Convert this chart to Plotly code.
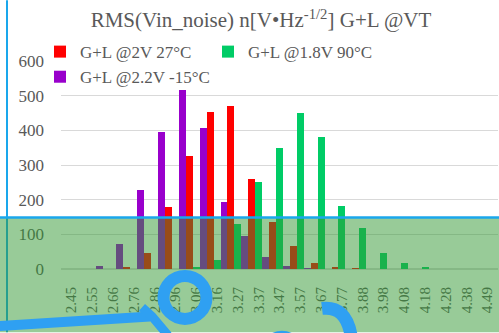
import plotly.graph_objects as go

categories = ["2.45", "2.55", "2.66", "2.76", "2.86", "2.96", "3.06", "3.16", "3.27", "3.37", "3.47",
              "3.57", "3.67", "3.77", "3.88", "3.98", "4.08", "4.18", "4.28", "4.38", "4.49"]
red_2v_27c = [0, 0, 0, 5, 45, 178, 325, 452, 471, 259, 136, 66, 18, 5, 2, 0, 0, 0, 0, 0, 0]
green_18v_90c = [0, 0, 0, 0, 0, 0, 3, 27, 130, 252, 348, 451, 381, 181, 117, 47, 18, 5, 0, 0, 0]
purple_22v_m15c = [0, 8, 72, 227, 395, 516, 408, 193, 96, 35, 8, 2, 0, 0, 0, 0, 0, 0, 0, 0, 0]

W, H = 499, 333
L, R, T, B = 61, 498, 61, 269.5


def px(x):
    return (x - L) / (R - L)


def py(y):
    return (B - y) / (B - T)


GREY = "#595959"
FONT = "Liberation Serif"

fig = go.Figure()
for name, vals, col in [("G+L @2V 27°C", red_2v_27c, "#FF0000"),
                        ("G+L @1.8V 90°C", green_18v_90c, "#00CC66"),
                        ("G+L @2.2V -15°C", purple_22v_m15c, "#9900CC")]:
    fig.add_trace(go.Bar(x=categories, y=vals, name=name, marker_color=col,
                         marker_line_width=0))

BLUE = "#2FA0F2"
shapes = [
    dict(type="line", xref="paper", yref="paper", x0=px(7), x1=px(7), y0=py(0), y1=py(333),
         line=dict(color="#1AA7EC", width=2)),
    dict(type="rect", xref="paper", yref="paper", x0=px(0), x1=px(499), y0=py(218), y1=py(333),
         fillcolor="rgba(49,152,49,0.5)", line=dict(width=0)),
    dict(type="line", xref="paper", yref="paper", x0=px(0), x1=px(499), y0=py(218), y1=py(218),
         line=dict(color="#1AA7EC", width=2.5)),
    dict(type="circle", xref="paper", yref="paper", x0=px(185 - 21.5), x1=px(185 + 21.5),
         y0=py(298 + 21.5), y1=py(298 - 21.5), line=dict(color=BLUE, width=12)),
    dict(type="path", xref="paper", yref="paper",
         path=f"M {px(-5)},{py(327)} L {px(150)},{py(317)}",
         line=dict(color=BLUE, width=10)),
    dict(type="path", xref="paper", yref="paper",
         path=f"M {px(142)},{py(308)} L {px(152)},{py(317)} L {px(168)},{py(336)}",
         line=dict(color=BLUE, width=9)),
    dict(type="path", xref="paper", yref="paper",
         path=f"M {px(322)},{py(309)} Q {px(346)},{py(306)} {px(351)},{py(336)}",
         line=dict(color=BLUE, width=13)),
    dict(type="path", xref="paper", yref="paper",
         path=f"M {px(272)},{py(336)} Q {px(282)},{py(331)} {px(292)},{py(336)}",
         line=dict(color=BLUE, width=4)),
]

fig.update_layout(
    width=W, height=H,
    margin=dict(l=L, r=W - R, t=T, b=H - B, pad=0),
    paper_bgcolor="white", plot_bgcolor="white",
    barmode="group", bargap=0, bargroupgap=0,
    title=dict(text="RMS(Vin_noise) n[V•Hz<sup>-1/2</sup>] G+L @VT",
               x=261 / W, xanchor="center", xref="container",
               y=1 - 20 / H, yanchor="middle", yref="container",
               font=dict(family=FONT, size=21, color=GREY)),
    legend=dict(orientation="h", x=px(40), xanchor="left", y=py(34), yanchor="top",
                entrywidth=123, entrywidthmode="pixels",
                font=dict(family=FONT, size=17, color=GREY),
                bgcolor="rgba(0,0,0,0)", tracegroupgap=0, itemsizing="constant"),
    xaxis=dict(type="category", range=[-0.5, 20.5], tickangle=-90, showgrid=False,
               showline=False, zeroline=False, ticks="",
               tickfont=dict(family=FONT, size=15, color=GREY), ticklabelstandoff=14),
    yaxis=dict(range=[0, 600], dtick=100, showgrid=True, gridcolor="#D9D9D9", gridwidth=1,
               zeroline=True, zerolinecolor="#D9D9D9", showline=False, ticks="",
               tickfont=dict(family=FONT, size=17, color=GREY), ticklabelstandoff=16),
    shapes=shapes,
    showlegend=True,
)

fig.write_html("out.html")
